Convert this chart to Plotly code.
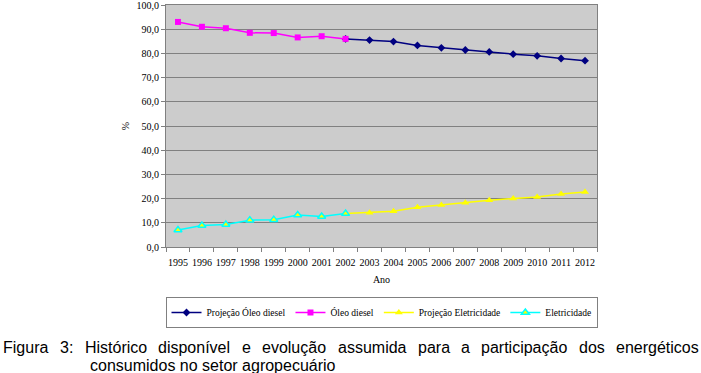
import plotly.graph_objects as go

years = [str(y) for y in range(1995, 2013)]
oleo_diesel = [93.0, 91.0, 90.4, 88.5, 88.4, 86.6, 87.1, 86.0] + [None] * 10
proj_oleo = [None] * 7 + [86.0, 85.5, 84.9, 83.3, 82.3, 81.4, 80.6, 79.7, 79.0, 77.9, 77.0]
eletricidade = [7.0, 8.9, 9.3, 11.1, 11.3, 13.2, 12.6, 13.8] + [None] * 10
proj_eletr = [None] * 7 + [13.8, 14.2, 14.8, 16.4, 17.4, 18.3, 19.3, 20.0, 20.7, 21.9, 22.7]

W, H = 701, 373
L, R, T, B = 166, 104, 5, 126
pw, ph = W - L - R, H - T - B

def px(x):
    return (x - L) / pw

def py(y):
    return (H - B - y) / ph

serif = "Liberation Serif, Times New Roman, serif"
sans = "Arial, Liberation Sans, sans-serif"
fig = go.Figure()
fig.add_trace(go.Scatter(x=years, y=proj_oleo, name="Projeção Óleo diesel", mode="lines+markers",
                         line=dict(color="#000080", width=1.5),
                         marker=dict(symbol="diamond", size=6, color="#000080")))
fig.add_trace(go.Scatter(x=years, y=oleo_diesel, name="Óleo diesel", mode="lines+markers",
                         line=dict(color="#FF00FF", width=1.5),
                         marker=dict(symbol="square", size=6, color="#FF00FF")))
fig.add_trace(go.Scatter(x=years, y=proj_eletr, name="Projeção Eletricidade", mode="lines+markers",
                         line=dict(color="#FFFF00", width=1.5),
                         marker=dict(symbol="triangle-up", size=7, color="#FFFF00")))
fig.add_trace(go.Scatter(x=years, y=eletricidade, name="Eletricidade", mode="lines+markers",
                         line=dict(color="#00FFFF", width=1.5),
                         marker=dict(symbol="triangle-up", size=7, color="#FFFF00",
                                     line=dict(color="#00FFFF", width=1.5))))

fig.update_layout(
    width=W, height=H,
    margin=dict(l=L, r=R, t=T, b=B, autoexpand=False),
    paper_bgcolor="white", plot_bgcolor="#CCCCCC",
    separators=", ",
    font=dict(family=serif, size=10, color="black"),
    showlegend=True,
    legend=dict(orientation="h", x=0.5, xanchor="center", y=py(297), yanchor="top",
                bgcolor="white", bordercolor="#808080", borderwidth=1,
                font=dict(family=serif, size=9.5), itemwidth=30, tracegroupgap=0),
    xaxis=dict(type="category", range=[-0.5, len(years) - 0.5], showgrid=False,
               ticks="outside", tickson="boundaries",
               ticklen=4, tickcolor="#808080", showline=True, linecolor="#808080",
               linewidth=1, mirror=True, tickangle=0, automargin=False,
               ticklabelstandoff=6,
               tickfont=dict(family=serif, size=10),
               title=dict(text="Ano", font=dict(family=serif, size=10), standoff=8)),
    yaxis=dict(range=[0, 100], dtick=10, tickformat=".1f", showgrid=True, gridcolor="#808080",
               gridwidth=1, ticks="outside", ticklen=4, tickcolor="#808080", showline=True,
               linecolor="#808080", linewidth=1, mirror=True, zeroline=False, automargin=False,
               ticklabeloverflow="allow",
               tickfont=dict(family=serif, size=10),
               title=dict(text="%", font=dict(family=serif, size=10), standoff=5)),
)

words = ["Figura", "3:", "Histórico", "disponível", "e", "evolução", "assumida", "para",
         "a", "participação", "dos", "energéticos"]
word_x = [1, 57.8, 82.6, 156.3, 239.8, 260.1, 335.6, 415.5, 459.0, 479.4, 577.1, 614.4]
for w, x in zip(words, word_x):
    fig.add_annotation(text=w, x=px(x), y=py(347), xref="paper", yref="paper",
                       xanchor="left", yanchor="middle", showarrow=False,
                       font=dict(family=sans, size=16, color="black"))
fig.add_annotation(text="consumidos no setor agropecuário", x=px(88), y=py(365),
                   xref="paper", yref="paper", xanchor="left", yanchor="middle",
                   showarrow=False, font=dict(family=sans, size=16, color="black"))

fig.write_html("out.html", config={"displayModeBar": False},
               post_script="document.body.style.margin='0px';")
